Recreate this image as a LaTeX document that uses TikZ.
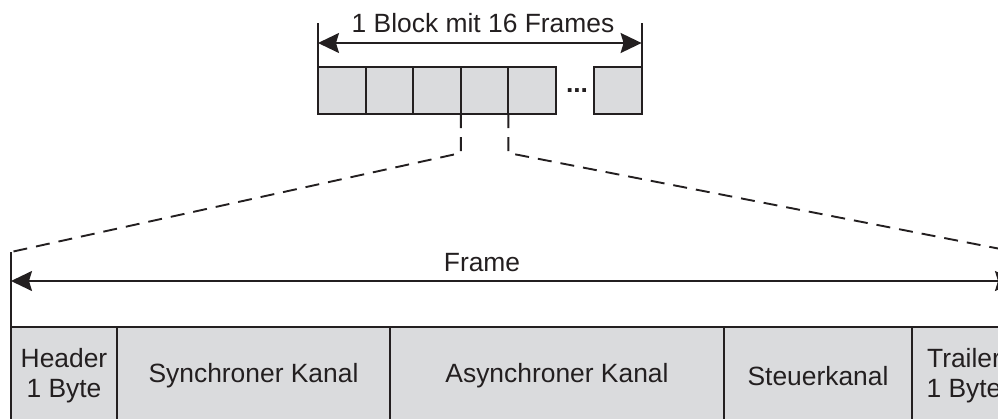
\documentclass[tikz,border=0pt]{standalone}
\usepackage{fontspec}
\setmainfont{Liberation Sans}
\usetikzlibrary{arrows.meta}
\definecolor{cellgray}{RGB}{218,219,221}
\definecolor{ink}{RGB}{35,31,32}
\begin{document}
\begin{tikzpicture}[x=1pt,y=-1pt,line width=1.9pt,
  cell/.style={draw=ink,fill=cellgray,minimum width=47.6pt,minimum height=47pt,
    inner sep=0pt,outer sep=0pt,anchor=north west},
  field/.style={draw=ink,fill=cellgray,minimum height=98pt,inner sep=0pt,outer sep=0pt,
    anchor=north west,align=center,text=ink,font=\fontsize{26.4}{30}\selectfont},
  lbl/.style={text=ink,font=\fontsize{26.4}{30}\selectfont,anchor=base,inner sep=0pt},
  dimline/.style={draw=ink,{Stealth[length=21pt,width=20pt,inset=3pt]}-{Stealth[length=21pt,width=20pt,inset=3pt]}},
  guide/.style={draw=ink},
  zoomline/.style={draw=ink,dash pattern=on 14pt off 9pt}]
\clip (0,0) rectangle (998,418);

% --- block of 16 frames ---
\node[cell] (c1) at (318,67) {};
\node[cell] (c2) at (365.6,67) {};
\node[cell] (c3) at (413.2,67) {};
\node[cell] (c4) at (460.8,67) {};
\node[cell] (c5) at (508.4,67) {};
\node[text=ink,font=\fontsize{26.4}{30}\selectfont\bfseries,inner sep=0pt] (dots) at (577,91) {...};
\node[cell,minimum width=47.6pt] (c16) at (594,67) {};

\coordinate (tl) at (318,23);
\coordinate (tr) at (641.6,23);
\coordinate (al) at (318,43);
\coordinate (ar) at (641.6,43);
\draw[guide] (tl) -- (c1.north west);
\draw[guide] (tr) -- (c16.north east);
\draw[dimline] (al) -- (ar);
\node[lbl] (blk) at (483,32) {1 Block mit 16 Frames};

% --- frame layout ---
\node[field,minimum width=106pt] (hdr) at (11,327) {Header\\1 Byte};
\node[field,minimum width=273pt] (syn) at (117,327) {Synchroner Kanal};
\node[field,minimum width=334pt] (asy) at (390,327) {Asynchroner Kanal};
\node[field,minimum width=188pt] (ctl) at (724,327) {Steuerkanal};
\node[field,minimum width=104pt] (trl) at (912,327) {Trailer\\1 Byte};

\coordinate (fl) at (11,252);
\coordinate (fr) at (1016,252);
\coordinate (bl) at (11,281);
\coordinate (br) at (1016,281);
\draw[guide] (fl) -- (hdr.north west);
\draw[guide] (fr) -- (trl.north east);
\draw[dimline] (bl) -- (br);
\node[lbl] (frm) at (482,271) {Frame};

% --- zoom lines from one frame to the frame layout ---
\draw[zoomline] (c4.south west) -- ++(0,39) -- (fl);
\draw[zoomline] (c5.south west) -- ++(0,39) -- (fr);
\end{tikzpicture}
\end{document}
